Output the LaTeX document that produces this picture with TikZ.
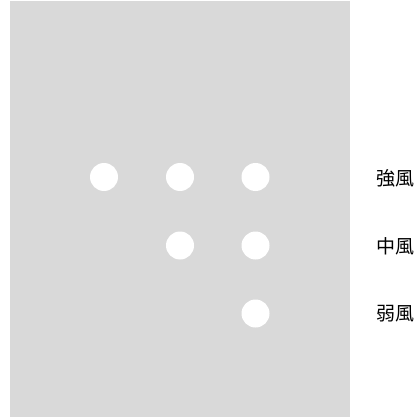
\documentclass[tikz,border=0pt]{standalone}
\usepackage{fontspec}
\newfontfamily\cjk{Noto Sans CJK JP}
\definecolor{bggray}{HTML}{D9D9D9}
\begin{document}
\begin{tikzpicture}[x=1pt,y=-1pt,
  dot/.style={circle,fill=white,minimum size=28pt,inner sep=0pt},
  lbl/.style={font=\cjk\fontsize{19}{21}\selectfont,anchor=west,inner sep=0pt}]
\useasboundingbox (0,0) rectangle (420,417);
\fill[bggray] (10,1) rectangle (350,417);
\node[dot] (a1) at (104,177) {};
\node[dot] (a2) at (180,177) {};
\node[dot] (a3) at (255.5,177) {};
\node[dot] (b2) at (180,245.5) {};
\node[dot] (b3) at (255.5,245.5) {};
\node[dot] (c3) at (255.5,313.5) {};
\node[lbl] (l1) at (376,178) {強風};
\node[lbl] (l2) at (376,246) {中風};
\node[lbl] (l3) at (376,314) {弱風};
\end{tikzpicture}
\end{document}
